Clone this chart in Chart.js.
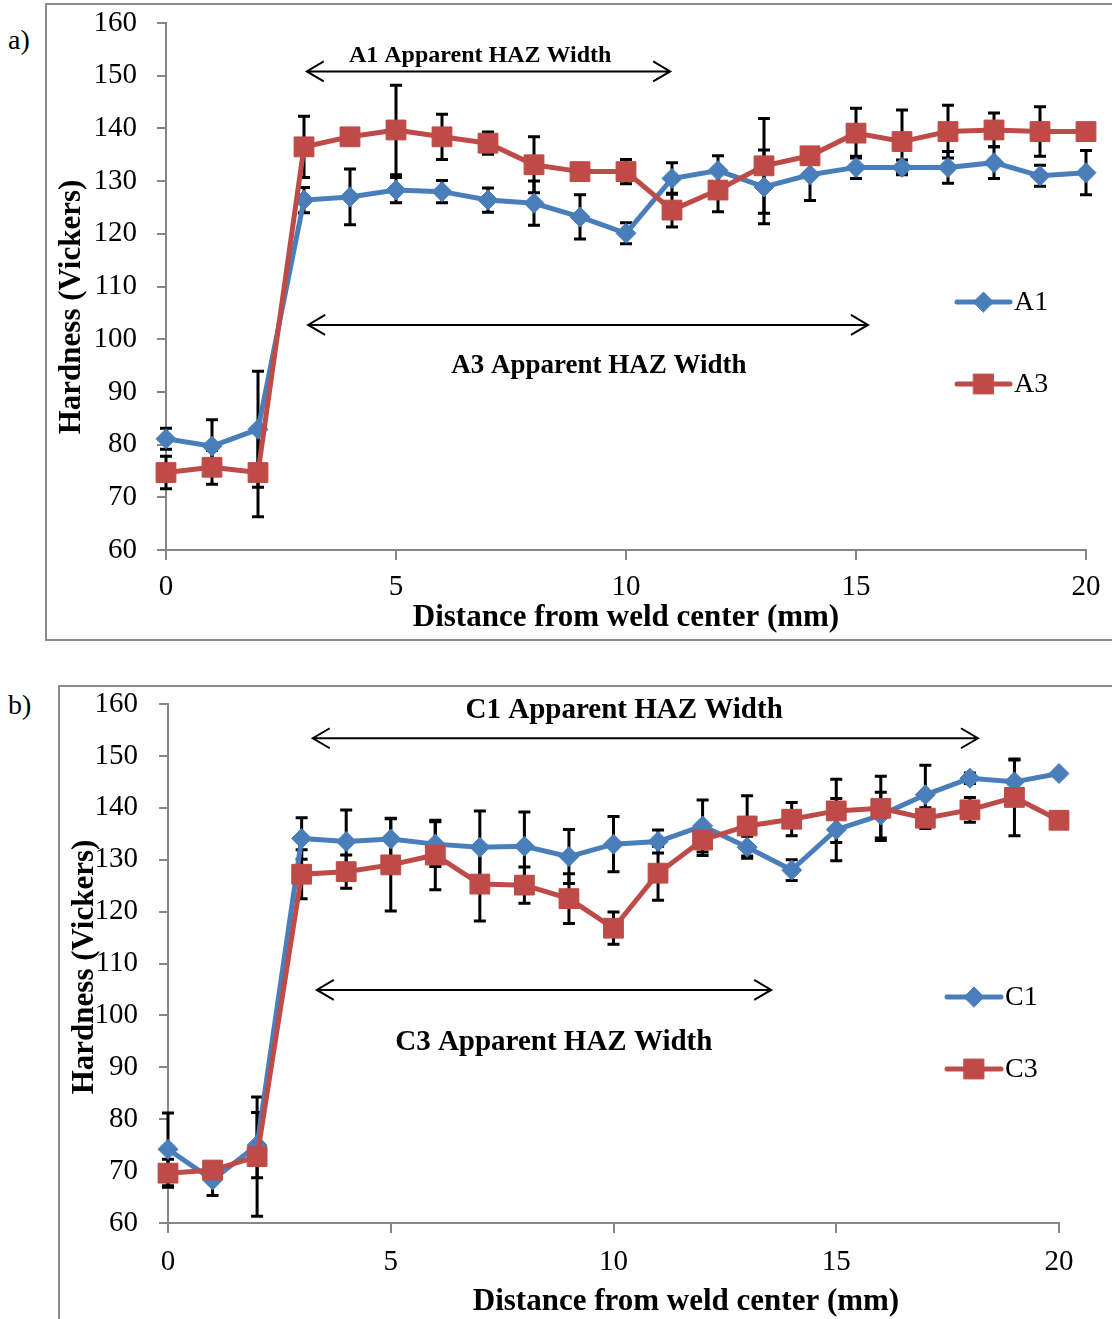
<!DOCTYPE html>
<html>
<head>
<meta charset="utf-8">
<title>Hardness profiles</title>
<script src="https://cdn.jsdelivr.net/npm/chart.js@4.4.0/dist/chart.umd.min.js"></script>
<style>
  body { margin: 0; width: 1112px; height: 1319px; overflow: hidden; background: #fff; position: relative;
         font-family: "Liberation Serif", "Times New Roman", serif; }
  .frame { position: absolute; border: 2px solid #8c8c8c; }
  .tag { position: absolute; font-size: 28px; line-height: 32px; color: #000; }
  canvas { position: absolute; left: 0; }
</style>
</head>
<body>
<div class="frame" style="left:45px;top:3px;width:1100px;height:634px"></div>
<div class="frame" style="left:58px;top:685px;width:1100px;height:700px"></div>
<span class="tag" style="left:8px;top:24px">a)</span>
<span class="tag" style="left:8px;top:689px">b)</span>
<canvas id="chartA" width="1112" height="645" style="top:0"></canvas>
<canvas id="chartB" width="1112" height="674" style="top:645px"></canvas>
<script>
// distance from weld center (mm)
const distance = [0, 1, 2, 3, 4, 5, 6, 7, 8, 9, 10, 11, 12, 13, 14, 15, 16, 17, 18, 19, 20];
const xTickValues = [0, 5, 10, 15, 20];
const yTickValues = [60, 70, 80, 90, 100, 110, 120, 130, 140, 150, 160];

// panel a
const a1Hardness = [81.1, 79.7, 82.9, 126.4, 127.0, 128.3, 128.0, 126.4, 125.8, 123.2, 120.1, 130.5, 132.0, 128.9, 131.2, 132.6, 132.6, 132.6, 133.5, 131.0, 131.6];
const a1Error    = [2.0, 5.0, 11.0, 2.4, 5.3, 2.4, 2.1, 2.3, 4.2, 4.2, 2.0, 3.0, 2.8, 7.0, 4.9, 2.1, 1.4, 3.0, 3.0, 2.0, 4.2];
const a3Hardness = [74.7, 75.7, 74.7, 136.5, 138.4, 139.7, 138.4, 137.2, 133.1, 131.8, 131.8, 124.5, 128.3, 132.9, 134.8, 139.1, 137.5, 139.4, 139.7, 139.4, 139.4];
const a3Error    = [3.1, 3.2, 8.4, 5.8, 1.0, 8.5, 4.3, 2.1, 5.3, 1.0, 2.3, 3.2, 4.1, 9.0, 1.0, 4.7, 6.0, 5.0, 3.2, 4.7, 0];

// panel b
const c1Hardness = [74.2, 68.3, 75.0, 134.1, 133.5, 134.0, 133.0, 132.4, 132.6, 130.6, 133.0, 133.5, 136.5, 132.4, 128.0, 135.8, 138.6, 142.5, 145.7, 145.0, 146.6];
const c1Error    = [7.0, 3.0, 6.3, 4.0, 6.1, 4.0, 4.3, 7.0, 6.6, 5.2, 5.3, 2.2, 5.0, 2.1, 2.0, 6.0, 4.4, 5.7, 1.0, 4.2, 0.5];
const c3Hardness = [69.6, 70.2, 72.8, 127.2, 127.7, 129.0, 130.9, 125.3, 125.1, 122.5, 116.8, 127.4, 133.8, 136.5, 137.8, 139.4, 139.9, 138.0, 139.6, 142.0, 137.6];
const c3Error    = [2.7, 1.0, 11.5, 4.7, 3.2, 8.9, 6.7, 7.1, 3.5, 4.8, 3.1, 5.2, 3.0, 5.8, 3.2, 6.1, 6.2, 2.0, 2.4, 7.4, 0];

const BLUE = '#4a7ebb';
const RED = '#be4b48';
const AXIS = '#868686';
const SERIF = '"Liberation Serif", "Times New Roman", serif';

// error bars under the lines
const errorBars = {
  id: 'errorBars',
  beforeDatasetsDraw(chart) {
    const { ctx, scales: { x, y } } = chart;
    ctx.save();
    ctx.strokeStyle = '#000';
    ctx.lineWidth = 3;
    chart.data.datasets.forEach(ds => {
      ds.data.forEach((pt, i) => {
        const e = ds.errors[i];
        if (!e) return;
        const px = x.getPixelForValue(pt.x);
        const top = y.getPixelForValue(pt.y + e);
        const bot = y.getPixelForValue(pt.y - e);
        ctx.beginPath();
        ctx.moveTo(px, top); ctx.lineTo(px, bot);
        ctx.moveTo(px - 6, top); ctx.lineTo(px + 6, top);
        ctx.moveTo(px - 6, bot); ctx.lineTo(px + 6, bot);
        ctx.stroke();
      });
    });
    ctx.restore();
  }
};

function arrow(ctx, x1, x2, y) {
  ctx.beginPath();
  ctx.moveTo(x1, y); ctx.lineTo(x2, y);
  ctx.moveTo(x1 + 17, y - 10); ctx.lineTo(x1, y); ctx.lineTo(x1 + 17, y + 10);
  ctx.moveTo(x2 - 17, y - 10); ctx.lineTo(x2, y); ctx.lineTo(x2 - 17, y + 10);
  ctx.stroke();
}

// HAZ arrows, legend and axis titles
const decor = {
  id: 'decor',
  afterDraw(chart, args, opts) {
    const { ctx, scales: { x, y } } = chart;
    ctx.save();
    ctx.fillStyle = '#000';
    ctx.strokeStyle = '#000';
    ctx.lineWidth = 2;

    opts.notes.forEach(n => {
      arrow(ctx, x.getPixelForValue(n.from), x.getPixelForValue(n.to), y.getPixelForValue(n.arrowY));
      ctx.font = 'bold ' + n.size + 'px ' + SERIF;
      ctx.textAlign = 'center';
      ctx.textBaseline = 'alphabetic';
      ctx.fillText(n.text, x.getPixelForValue(n.textX), y.getPixelForValue(n.textY));
    });

    const lg = opts.legend;
    chart.data.datasets.forEach((ds, i) => {
      const ly = lg.rows[i];
      ctx.strokeStyle = ds.borderColor;
      ctx.lineWidth = 5;
      ctx.lineCap = 'round';
      ctx.beginPath(); ctx.moveTo(lg.x1, ly); ctx.lineTo(lg.x2, ly); ctx.stroke();
      ctx.fillStyle = ds.backgroundColor;
      ctx.lineWidth = 1;
      Chart.helpers.drawPoint(ctx, { pointStyle: ds.pointStyle, radius: ds.pointRadius, rotation: 0, borderWidth: 1 },
        (lg.x1 + lg.x2) / 2, ly);
      ctx.fillStyle = '#000';
      ctx.font = '28px ' + SERIF;
      ctx.textAlign = 'left';
      ctx.textBaseline = 'middle';
      ctx.fillText(ds.label, lg.x2 + 4, ly + 1);
    });

    ctx.fillStyle = '#000';
    ctx.font = 'bold 31px ' + SERIF;
    ctx.textAlign = 'center';
    ctx.textBaseline = 'alphabetic';
    ctx.fillText('Distance from weld center (mm)', opts.xTitle.x, opts.xTitle.y);
    ctx.translate(opts.yTitle.x, opts.yTitle.y);
    ctx.rotate(-Math.PI / 2);
    ctx.textBaseline = 'middle';
    ctx.fillText('Hardness (Vickers)', 0, 0);
    ctx.restore();
  }
};

function series(label, values, errors, color, style, radius, order) {
  return {
    label: label,
    data: distance.map((d, i) => ({ x: d, y: values[i] })),
    errors: errors,
    borderColor: color,
    backgroundColor: color,
    borderWidth: 5,
    pointStyle: style,
    pointRadius: radius,
    pointHoverRadius: radius,
    pointBorderWidth: 1,
    pointBorderColor: color,
    pointBackgroundColor: color,
    tension: 0,
    clip: false,
    order: order
  };
}

function makeChart(id, datasets, geo, decorOpts) {
  return new Chart(document.getElementById(id), {
    type: 'line',
    data: { datasets: datasets },
    plugins: [errorBars, decor],
    options: {
      responsive: false,
      animation: false,
      devicePixelRatio: 1,
      layout: { padding: { left: 0, top: geo.top, right: geo.right, bottom: 0 } },
      plugins: { legend: { display: false }, tooltip: { enabled: false }, decor: decorOpts },
      scales: {
        x: {
          type: 'linear', min: 0, max: 20,
          afterBuildTicks: s => { s.ticks = xTickValues.map(v => ({ value: v })); },
          afterFit: s => { s.height = geo.xAxisHeight; s.paddingLeft = 0; s.paddingRight = 0; },
          grid: { drawOnChartArea: false, tickLength: 10, color: AXIS, lineWidth: 2 },
          border: { color: AXIS, width: 2 },
          ticks: { color: '#000', font: { family: SERIF, size: 29 }, padding: geo.xPad, maxRotation: 0, autoSkip: false }
        },
        y: {
          type: 'linear', min: 60, max: 160,
          afterBuildTicks: s => { s.ticks = yTickValues.map(v => ({ value: v })); },
          afterFit: s => { s.width = geo.yAxisWidth; s.paddingTop = 0; s.paddingBottom = 0; },
          grid: { drawOnChartArea: false, tickLength: 9, color: AXIS, lineWidth: 2 },
          border: { color: AXIS, width: 2 },
          ticks: { color: '#000', font: { family: SERIF, size: 29 }, padding: geo.yPad, autoSkip: false }
        }
      }
    }
  });
}

makeChart('chartA', [
  series('A1', a1Hardness, a1Error, BLUE, 'rectRot', 10, 1),
  series('A3', a3Hardness, a3Error, RED, 'rect', 14, 0)
], { top: 23, right: 26, yAxisWidth: 166, xAxisHeight: 95, xPad: 10, yPad: 20 }, {
  notes: [
    { text: 'A1 Apparent HAZ Width', size: 24, from: 3.06, to: 10.96, arrowY: 150.8, textX: 6.83, textY: 152.6 },
    { text: 'A3 Apparent HAZ Width', size: 27, from: 3.09, to: 15.26, arrowY: 102.7, textX: 9.41, textY: 93.6 }
  ],
  legend: { x1: 957, x2: 1010, rows: [302, 384] },
  xTitle: { x: 626, y: 626 },
  yTitle: { x: 72, y: 307 }
});

makeChart('chartB', [
  series('C1', c1Hardness, c1Error, BLUE, 'rectRot', 10, 1),
  series('C3', c3Hardness, c3Error, RED, 'rect', 14, 0)
], { top: 59, right: 53, yAxisWidth: 168, xAxisHeight: 96, xPad: 12, yPad: 21 }, {
  notes: [
    { text: 'C1 Apparent HAZ Width', size: 29, from: 3.25, to: 18.18, arrowY: 153.4, textX: 10.24, textY: 157.3 },
    { text: 'C3 Apparent HAZ Width', size: 29, from: 3.34, to: 13.54, arrowY: 104.9, textX: 8.66, textY: 93.3 }
  ],
  legend: { x1: 947, x2: 1001, rows: [997 - 645, 1069 - 645] },
  xTitle: { x: 686, y: 1310 - 645 },
  yTitle: { x: 85, y: 967 - 645 }
});
</script>
</body>
</html>
